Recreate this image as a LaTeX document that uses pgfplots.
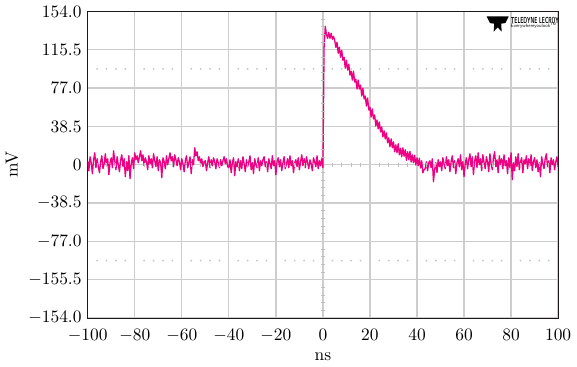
\documentclass[border=0pt]{standalone}
\usepackage{pgfplots}
\pgfplotsset{compat=1.18}
\definecolor{sig}{RGB}{238,0,130}
\definecolor{gridc}{RGB}{205,205,205}
\definecolor{framec}{RGB}{30,25,25}
\begin{document}
\begin{tikzpicture}
\begin{axis}[
  scale only axis,
  width=270pt, height=176pt,
  xmin=-100, xmax=100, ymin=-154, ymax=154,
  xtick={-100,-80,...,100},
  ytick={-154,-115.5,-77,-38.5,0,38.5,77,115.5,154},
  yticklabels={$-154.0$,$-155.5$,$-77.0$,$-38.5$,$0$,$38.5$,$77.0$,$115.5$,$154.0$},
  major tick length=0pt,
  grid=major,
  major grid style={gridc, line width=0.75pt},
  axis line style={framec, line width=0.6pt},
  xtick style={draw=none}, ytick style={draw=none},
  xticklabel style={yshift=-3pt},
  xlabel={ns}, ylabel={mV},
  xlabel style={yshift=1pt},
  ylabel style={yshift=-1pt},
  clip=true,
]
% graticule dots
\addplot[gray!45, only marks, mark=*, mark size=0.3pt, mark options={draw=none, fill=gray!45}] coordinates {
(-96,96.25)(-92,96.25)(-88,96.25)(-84,96.25)(-76,96.25)(-72,96.25)(-68,96.25)(-64,96.25)
(-56,96.25)(-52,96.25)(-48,96.25)(-44,96.25)(-36,96.25)(-32,96.25)(-28,96.25)(-24,96.25)
(-16,96.25)(-12,96.25)(-8,96.25)(-4,96.25)(4,96.25)(8,96.25)(12,96.25)(16,96.25)
(24,96.25)(28,96.25)(32,96.25)(36,96.25)(44,96.25)(48,96.25)(52,96.25)(56,96.25)
(64,96.25)(68,96.25)(72,96.25)(76,96.25)(84,96.25)(88,96.25)(92,96.25)(96,96.25)
(-96,-96.25)(-92,-96.25)(-88,-96.25)(-84,-96.25)(-76,-96.25)(-72,-96.25)(-68,-96.25)(-64,-96.25)
(-56,-96.25)(-52,-96.25)(-48,-96.25)(-44,-96.25)(-36,-96.25)(-32,-96.25)(-28,-96.25)(-24,-96.25)
(-16,-96.25)(-12,-96.25)(-8,-96.25)(-4,-96.25)(4,-96.25)(8,-96.25)(12,-96.25)(16,-96.25)
(24,-96.25)(28,-96.25)(32,-96.25)(36,-96.25)(44,-96.25)(48,-96.25)(52,-96.25)(56,-96.25)
(64,-96.25)(68,-96.25)(72,-96.25)(76,-96.25)(84,-96.25)(88,-96.25)(92,-96.25)(96,-96.25)
};
% center cross ticks
\addplot[gray!50, only marks, mark=|, mark size=1.2pt, mark options={gray!50, line width=0.5pt}] coordinates {
(-96,0)(-92,0)(-88,0)(-84,0)(-76,0)(-72,0)(-68,0)(-64,0)
(-56,0)(-52,0)(-48,0)(-44,0)(-36,0)(-32,0)(-28,0)(-24,0)
(-16,0)(-12,0)(-8,0)(-4,0)(4,0)(8,0)(12,0)(16,0)
(24,0)(28,0)(32,0)(36,0)(44,0)(48,0)(52,0)(56,0)
(64,0)(68,0)(72,0)(76,0)(84,0)(88,0)(92,0)(96,0)
};
\addplot[gray!50, only marks, mark=-, mark size=1.2pt, mark options={gray!50, line width=0.5pt}] coordinates {
(0,-146.3)(0,-138.6)(0,-130.9)(0,-123.2)(0,-107.8)(0,-100.1)(0,-92.4)(0,-84.7)
(0,-69.3)(0,-61.6)(0,-53.9)(0,-46.2)(0,-30.8)(0,-23.1)(0,-15.4)(0,-7.7)
(0,7.7)(0,15.4)(0,23.1)(0,30.8)(0,46.2)(0,53.9)(0,61.6)(0,69.3)
(0,84.7)(0,92.4)(0,100.1)(0,107.8)(0,123.2)(0,130.9)(0,138.6)(0,146.3)
};
% signal
\addplot[sig, line width=0.75pt, line join=round] table[row sep=\\] {
x y\\
-100 4\\ -99.5 -6\\ -99 8\\ -98.5 2\\ -98 -9\\ -97.5 5\\ -97 12\\ -96.5 -3\\ -96 6\\ -95.5 -2\\
-95 -8\\ -94.5 3\\ -94 9\\ -93.5 -4\\ -93 1\\ -92.5 11\\ -92 -1\\ -91.5 6\\ -91 -10\\ -90.5 2\\
-90 7\\ -89.5 -3\\ -89 14\\ -88.5 4\\ -88 -5\\ -87.5 8\\ -87 0\\ -86.5 -7\\ -86 5\\ -85.5 10\\
-85 -2\\ -84.5 6\\ -84 -12\\ -83.5 3\\ -83 -6\\ -82.5 9\\ -82 -14\\ -81.5 1\\ -81 7\\ -80.5 -4\\
-80 12\\ -79.5 5\\ -79 9\\ -78.5 2\\ -78 8\\ -77.5 14\\ -77 4\\ -76.5 10\\ -76 -1\\ -75.5 7\\
-75 3\\ -74.5 -5\\ -74 9\\ -73.5 1\\ -73 6\\ -72.5 -3\\ -72 11\\ -71.5 4\\ -71 -2\\ -70.5 8\\
-70 -6\\ -69.5 5\\ -69 2\\ -68.5 -13\\ -68 7\\ -67.5 3\\ -67 -4\\ -66.5 9\\ -66 0\\ -65.5 6\\
-65 12\\ -64.5 4\\ -64 8\\ -63.5 -2\\ -63 10\\ -62.5 5\\ -62 -1\\ -61.5 7\\ -61 3\\ -60.5 -5\\
-60 6\\ -59.5 1\\ -59 -7\\ -58.5 4\\ -58 9\\ -57.5 -3\\ -57 2\\ -56.5 8\\ -56 -9\\ -55.5 5\\
-55 0\\ -54.5 17\\ -54 9\\ -53.5 13\\ -53 4\\ -52.5 8\\ -52 1\\ -51.5 6\\ -51 -2\\ -50.5 3\\
-50 4\\ -49.5 -6\\ -49 2\\ -48.5 8\\ -48 -3\\ -47.5 5\\ -47 -1\\ -46.5 7\\ -46 3\\ -45.5 -4\\
-45 6\\ -44.5 2\\ -44 -3\\ -43.5 5\\ -43 -1\\ -42.5 4\\ -42 8\\ -41.5 1\\ -41 6\\ -40.5 -2\\
-40 -3\\ -39.5 5\\ -39 -8\\ -38.5 2\\ -38 7\\ -37.5 -11\\ -37 3\\ -36.5 -2\\ -36 6\\ -35.5 -6\\
-35 4\\ -34.5 -4\\ -34 8\\ -33.5 1\\ -33 -7\\ -32.5 5\\ -32 -2\\ -31.5 3\\ -31 9\\ -30.5 -5\\
-30 2\\ -29.5 -9\\ -29 6\\ -28.5 0\\ -28 -3\\ -27.5 7\\ -27 -6\\ -26.5 4\\ -26 -1\\ -25.5 5\\
-25 8\\ -24.5 -2\\ -24 3\\ -23.5 -7\\ -23 6\\ -22.5 1\\ -22 -4\\ -21.5 9\\ -21 -1\\ -20.5 4\\
-20 -10\\ -19.5 3\\ -19 7\\ -18.5 -2\\ -18 5\\ -17.5 -6\\ -17 2\\ -16.5 8\\ -16 -4\\ -15.5 1\\
-15 6\\ -14.5 -3\\ -14 9\\ -13.5 -1\\ -13 4\\ -12.5 -8\\ -12 2\\ -11.5 5\\ -11 -2\\ -10.5 7\\
-10 -5\\ -9.5 3\\ -9 10\\ -8.5 -1\\ -8 6\\ -7.5 -3\\ -7 8\\ -6.5 2\\ -6 -4\\ -5.5 5\\
-5 1\\ -4.5 -6\\ -4 7\\ -3.5 3\\ -3 -2\\ -2.5 9\\ -2 -4\\ -1.5 4\\ -1 -1\\ -0.5 6\\
0 -3\\ 0.5 118\\ 1 139\\ 1.5 131\\ 2 127\\ 2.5 133\\ 3 127\\ 3.5 132\\ 4 126\\ 4.5 129\\
5 125\\ 5.5 118\\ 6 123\\ 6.5 112\\ 7 118\\ 7.5 108\\ 8 115\\ 8.5 105\\ 9 108\\ 9.5 97\\
10 105\\ 10.5 95\\ 11 101\\ 11.5 90\\ 12 94\\ 12.5 85\\ 13 94\\ 13.5 83\\ 14 86\\ 14.5 76\\
15 85\\ 15.5 76\\ 16 80\\ 16.5 69\\ 17 77\\ 17.5 66\\ 18 69\\ 18.5 59\\ 19 67\\ 19.5 55\\
20 58\\ 20.5 48\\ 21 56\\ 21.5 46\\ 22 50\\ 22.5 39\\ 23 45\\ 23.5 36\\ 24 43\\ 24.5 33\\
25 38\\ 25.5 28\\ 26 34\\ 26.5 26\\ 27 32\\ 27.5 22\\ 28 27\\ 28.5 18\\ 29 26\\ 29.5 17\\
30 23\\ 30.5 13\\ 31 20\\ 31.5 12\\ 32 21\\ 32.5 10\\ 33 16.5\\ 33.5 8\\ 34 17\\ 34.5 8.5\\
35 15\\ 35.5 4.5\\ 36 13\\ 36.5 5\\ 37 13.5\\ 37.5 2.7\\ 38 10\\ 38.5 2\\ 39 9.5\\ 39.5 -0.3\\
40 7\\ 40.5 -1\\ 41 6.5\\ 41.5 -3.3\\ 42 4\\ 42.5 -8\\ 43 -5\\ 43.5 -4\\ 44 3\\ 44.5 -6\\
45 2\\ 45.5 4\\ 46 -3\\ 46.5 6\\ 47 -17\\ 47.5 -5\\ 48 2\\ 48.5 -8\\ 49 5\\ 49.5 -2\\
50 3\\ 50.5 -6\\ 51 7\\ 51.5 1\\ 52 -4\\ 52.5 8\\ 53 -1\\ 53.5 5\\ 54 -7\\ 54.5 3\\
55 9\\ 55.5 -3\\ 56 4\\ 56.5 -9\\ 57 2\\ 57.5 6\\ 58 -2\\ 58.5 10\\ 59 -5\\ 59.5 3\\
60 -12\\ 60.5 1\\ 61 7\\ 61.5 -4\\ 62 5\\ 62.5 11\\ 63 -2\\ 63.5 8\\ 64 -10\\ 64.5 4\\
65 9\\ 65.5 -3\\ 66 12\\ 66.5 0\\ 67 6\\ 67.5 -6\\ 68 10\\ 68.5 2\\ 69 -4\\ 69.5 8\\
70 3\\ 70.5 -7\\ 71 11\\ 71.5 1\\ 72 -5\\ 72.5 7\\ 73 13\\ 73.5 -2\\ 74 5\\ 74.5 -8\\
75 9\\ 75.5 0\\ 76 6\\ 76.5 -4\\ 77 10\\ 77.5 -1\\ 78 4\\ 78.5 -9\\ 79 7\\ 79.5 -3\\
80 12\\ 80.5 -15\\ 81 2\\ 81.5 -6\\ 82 8\\ 82.5 -2\\ 83 11\\ 83.5 -5\\ 84 3\\ 84.5 7\\
85 -8\\ 85.5 5\\ 86 1\\ 86.5 9\\ 87 -4\\ 87.5 6\\ 88 -1\\ 88.5 10\\ 89 -6\\ 89.5 3\\
90 7\\ 90.5 -3\\ 91 5\\ 91.5 -7\\ 92 2\\ 92.5 -12\\ 93 8\\ 93.5 1\\ 94 -4\\ 94.5 6\\
95 11\\ 95.5 -2\\ 96 4\\ 96.5 -8\\ 97 7\\ 97.5 0\\ 98 5\\ 98.5 -5\\ 99 3\\ 99.5 8\\
100 -2\\
};
% logo
\fill[black] (rel axis cs:0.848,0.984) -- (rel axis cs:0.895,0.984) -- (rel axis cs:0.888,0.962)
  -- (rel axis cs:0.879,0.960) -- (rel axis cs:0.880,0.934) -- (rel axis cs:0.8715,0.948)
  -- (rel axis cs:0.863,0.934) -- (rel axis cs:0.864,0.960) -- (rel axis cs:0.855,0.962) -- cycle;
\node[anchor=north west, inner sep=0pt] at (rel axis cs:0.899,0.983)
  {\resizebox{27.5pt}{3.6pt}{\sffamily\bfseries TELEDYNE LECROY}};
\node[anchor=north west, inner sep=0pt] at (rel axis cs:0.899,0.962)
  {\resizebox{26pt}{2.4pt}{\sffamily Everywhereyoulook\textsuperscript{TM}}};
\end{axis}
\end{tikzpicture}
\end{document}
